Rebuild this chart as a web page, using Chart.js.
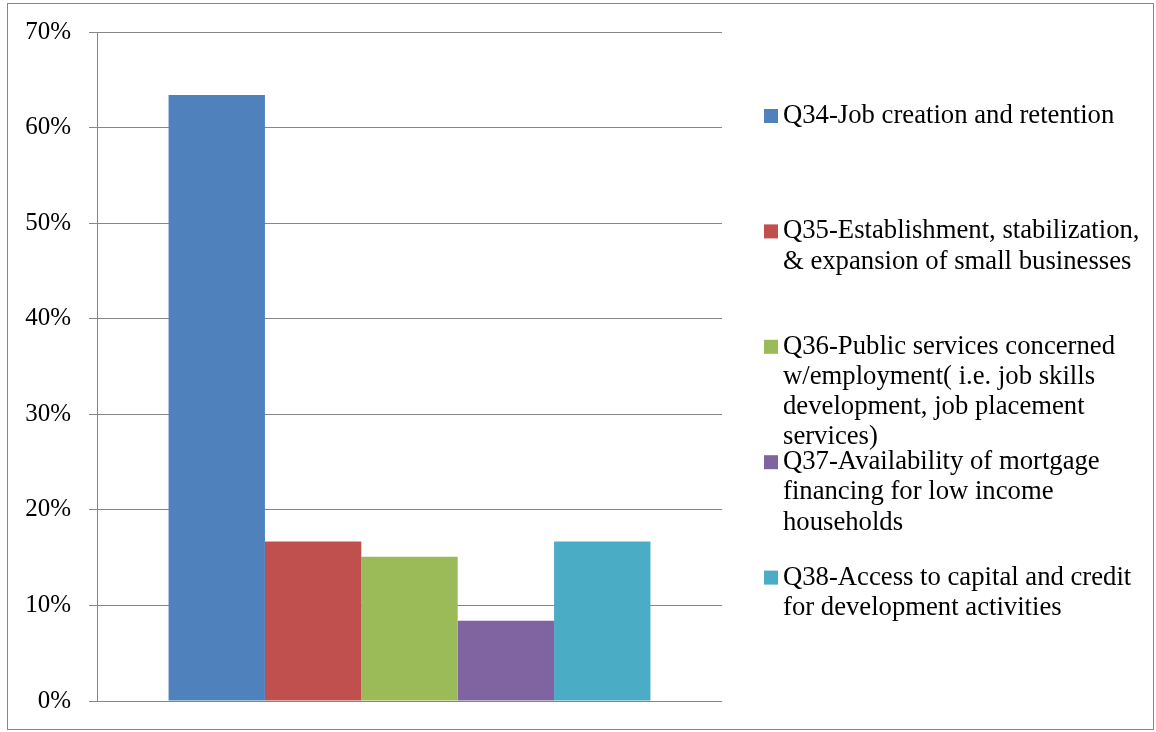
<!DOCTYPE html>
<html>
<head>
<meta charset="utf-8">
<script src="https://cdn.jsdelivr.net/npm/chart.js@4.4.0/dist/chart.umd.min.js"></script>
<style>
  html, body { margin: 0; padding: 0; background: #fff; }
  #wrap { position: relative; width: 1156px; height: 732px; }
</style>
</head>
<body>
<div id="wrap"><canvas id="chart" width="1156" height="732"></canvas></div>
<script>
// Data
const categories = [''];
const seriesNames = [
    'Q34-Job creation and retention',
    'Q35-Establishment, stabilization, & expansion of small businesses',
    'Q36-Public services concerned w/employment( i.e. job skills development, job placement services)',
    'Q37-Availability of mortgage financing for low income households',
    'Q38-Access to capital and credit for development activities'
];
const seriesValues = [63.4, 16.7, 15.1, 8.4, 16.7];
const seriesColors = ['#4F81BD', '#C0504D', '#9BBB59', '#8064A2', '#4BACC6'];
const yTicks = [0, 10, 20, 30, 40, 50, 60, 70];

const FONT = "'Liberation Serif', 'Times New Roman', serif";
const GRID = '#868686';

// outer frame
const framePlugin = {
    id: 'frame',
    beforeDraw(chart) {
        const ctx = chart.ctx;
        ctx.save();
        ctx.fillStyle = '#fff';
        ctx.fillRect(0, 0, chart.width, chart.height);
        ctx.strokeStyle = GRID;
        ctx.lineWidth = 1;
        ctx.strokeRect(7.5, 3.5, 1146, 726);
        ctx.restore();
    }
};

// wrap text to a width
function wrapText(ctx, text, maxWidth) {
    const words = text.split(' ');
    const lines = [];
    let cur = '';
    words.forEach(w => {
        const test = cur ? cur + ' ' + w : w;
        if (cur && ctx.measureText(test).width > maxWidth) {
            lines.push(cur);
            cur = w;
        } else {
            cur = test;
        }
    });
    if (cur) lines.push(cur);
    return lines;
}

// legend on the right, Excel style
const sideLegend = {
    id: 'sideLegend',
    afterDraw(chart, args, opts) {
        const ctx = chart.ctx;
        ctx.save();
        ctx.font = opts.fontSize + 'px ' + FONT;
        ctx.textBaseline = 'middle';
        ctx.textAlign = 'left';
        chart.data.datasets.forEach((ds, i) => {
            const y0 = opts.top + i * opts.step;
            ctx.fillStyle = ds.backgroundColor;
            ctx.fillRect(opts.boxX, y0 - opts.box / 2, opts.box, opts.box);
            ctx.fillStyle = '#000';
            const lines = wrapText(ctx, ds.label, opts.maxWidth);
            lines.forEach((ln, j) => {
                ctx.fillText(ln, opts.textX, y0 + j * opts.lineHeight);
            });
        });
        ctx.restore();
    }
};

const datasets = seriesNames.map((name, i) => ({
    label: name,
    data: [seriesValues[i]],
    backgroundColor: seriesColors[i],
    borderWidth: 0,
    categoryPercentage: 0.771,
    barPercentage: 1.0
}));

new Chart(document.getElementById('chart'), {
    type: 'bar',
    data: { labels: categories, datasets: datasets },
    options: {
        responsive: false,
        animation: false,
        layout: { padding: { top: 32, right: 434, bottom: 31, left: 0 } },
        plugins: {
            legend: { display: false },
            tooltip: { enabled: false },
            sideLegend: {
                top: 116, step: 115.4, boxX: 764, box: 14, textX: 783,
                fontSize: 26.7, lineHeight: 30.2, maxWidth: 362
            }
        },
        scales: {
            x: {
                display: false,
                grid: { display: false }
            },
            y: {
                min: 0,
                max: 70,
                afterFit(scale) {
                    scale.width = 97;
                    scale.paddingTop = 0;
                    scale.paddingBottom = 0;
                },
                afterBuildTicks(scale) { scale.ticks = yTicks.map(v => ({ value: v })); },
                ticks: {
                    padding: 18,
                    color: '#000',
                    font: { family: FONT, size: 25 },
                    callback: v => v + '%'
                },
                grid: { color: GRID, lineWidth: 1, tickLength: 8, drawTicks: true },
                border: { display: true, color: GRID, width: 1 }
            }
        }
    },
    plugins: [framePlugin, sideLegend]
});
</script>
</body>
</html>
